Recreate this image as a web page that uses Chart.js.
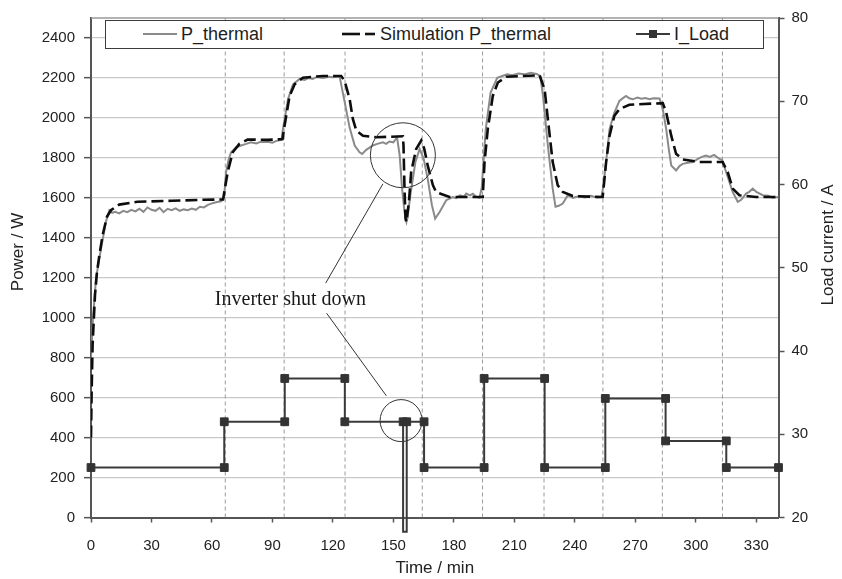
<!DOCTYPE html>
<html>
<head>
<meta charset="utf-8">
<script src="https://cdn.jsdelivr.net/npm/chart.js@4.4.1/dist/chart.umd.min.js"></script>
<style>
  html, body { margin: 0; padding: 0; background: #fff; }
  #contenedor { position: relative; width: 842px; height: 579px; }
  #grafico { position: absolute; left: 0; top: 0; }
  #leyenda {
    position: absolute; left: 105px; top: 20px; width: 657px; height: 27px;
    border: 1.5px solid #3c3c3c; background: #fff;
    font-family: "Liberation Sans", Arial, sans-serif; font-size: 18px; color: #1e1e1e;
  }
  .texto { position: absolute; top: 0; line-height: 27px; white-space: nowrap; }
  .muestra { position: absolute; top: 8px; }
</style>
</head>
<body>
<div id="contenedor">
  <canvas id="grafico" width="842" height="579"></canvas>
  <div id="leyenda">
    <svg class="muestra" style="left:37px" width="34" height="10"><line x1="0" y1="5" x2="34" y2="5" stroke="#8a8a8a" stroke-width="2"/></svg>
    <span class="texto" style="left:75px">P_thermal</span>
    <svg class="muestra" style="left:236px" width="34" height="10"><line x1="0" y1="5" x2="18" y2="5" stroke="#111" stroke-width="2.6"/><line x1="23" y1="5" x2="33" y2="5" stroke="#111" stroke-width="2.6"/></svg>
    <span class="texto" style="left:274px">Simulation P_thermal</span>
    <svg class="muestra" style="left:530px" width="34" height="10"><line x1="0" y1="5" x2="34" y2="5" stroke="#3a3a3a" stroke-width="2"/><rect x="13" y="1" width="8" height="8" fill="#333"/></svg>
    <span class="texto" style="left:568px">I_Load</span>
  </div>
</div>
<script>
// Potencia térmica medida (W) contra tiempo (min)
const tMedido = [
  0, 1, 2.5, 5, 7.4, 9.1, 10.5, 12, 14, 16,
  18, 20, 22, 24, 26, 28, 30, 32, 34, 36,
  38, 40, 42, 44, 46, 48, 50, 52, 54, 56,
  58, 60, 62, 64.5, 66, 67, 68.2, 69.5, 72, 74.4,
  77, 79.3, 82, 84, 87.6, 90, 92, 94.5, 95.2, 96.5,
  97.7, 100.2, 103.5, 106, 108, 110, 112, 115, 118, 120,
  123.3, 125.8, 128.3, 130.8, 133.2, 134.5, 136.5, 139.8, 142, 144.8,
  146.4, 148, 150, 151.8, 153.1, 154.3, 155.5, 156.5, 157, 158.4,
  160.9, 163, 165, 167, 169.1, 170.7, 173, 176.2, 179.5, 181,
  183, 185, 186.1, 188, 189.4, 191, 192.7, 193.8, 195, 195.8,
  198.2, 201.5, 204, 206.4, 209, 212, 215, 218, 221, 222.8,
  224.2, 226.6, 229, 230.4, 232, 234, 236.5, 239, 242, 245,
  248, 251, 253.2, 254.2, 255.5, 257.2, 259.6, 262.1, 264, 265.4,
  267, 268.7, 271, 273, 275, 277, 279, 282, 283.6, 285.3,
  286.5, 287.8, 290.2, 292, 293.5, 296, 298.5, 301, 303, 305,
  307, 309, 311.7, 313, 315, 318.3, 320.8, 322.5, 324.9, 326.5,
  328.2, 330, 333.2, 336, 338, 341
];
const pMedido = [
  800, 1000, 1198, 1347, 1480, 1538, 1525, 1530, 1522, 1535,
  1528, 1540, 1532, 1545, 1530, 1552, 1540, 1535, 1550, 1528,
  1545, 1538, 1547, 1535, 1542, 1538, 1546, 1540, 1555, 1552,
  1565, 1572, 1578, 1583, 1600, 1729, 1790, 1828, 1853, 1862,
  1870, 1878, 1872, 1880, 1881, 1876, 1885, 1890, 1944, 2020,
  2093, 2168, 2195, 2190, 2200, 2195, 2205, 2200, 2206, 2203,
  2208, 2080, 1950, 1862, 1828, 1820, 1840, 1862, 1870, 1878,
  1870, 1882, 1878, 1903, 1812, 1646, 1530, 1480, 1500, 1613,
  1779, 1845, 1795, 1696, 1563, 1496, 1530, 1588, 1604, 1598,
  1612, 1606, 1621, 1612, 1620, 1605, 1600, 1650, 1830, 1944,
  2127, 2201, 2210, 2218, 2214, 2222, 2218, 2226, 2220, 2210,
  2110, 1862, 1646, 1555, 1560, 1571, 1613, 1600, 1608, 1602,
  1610, 1600, 1604, 1663, 1779, 1944, 2027, 2085, 2100, 2110,
  2098, 2093, 2102, 2096, 2100, 2094, 2098, 2097, 2044, 1944,
  1850, 1762, 1737, 1760, 1770, 1775, 1779, 1795, 1805, 1812,
  1805, 1815, 1795, 1790, 1729, 1629, 1580, 1590, 1621, 1630,
  1646, 1630, 1613, 1610, 1600, 1604
];

// Potencia térmica simulada (W)
const tSimulado = [
  0, 0.3, 0.8, 2, 3, 4.2, 5.8, 7.9, 9.9, 14,
  23, 40, 55, 65.5, 67.8, 70.3, 73.6, 77.7, 87.6, 95,
  96, 98.5, 101, 105.1, 115, 124.1, 125.8, 128.3, 129.9, 131.6,
  134.9, 141.5, 154.7, 155, 155.5, 156, 156.4, 157.7, 158.8, 161.3,
  163.8, 165.3, 167, 169.6, 171.2, 177.8, 194.3, 195.2, 196.8, 199.3,
  201.8, 206, 222.5, 225, 226.6, 229, 231.5, 234, 239, 253.8,
  255.5, 257.2, 259.6, 262.1, 267, 283.6, 285.3, 287.8, 290.2, 293.5,
  301.8, 313.3, 315.8, 318.3, 321.6, 329.9, 341
];
const pSimulado = [
  400, 620, 868, 1117, 1230, 1316, 1415, 1505, 1538, 1566,
  1580, 1585, 1590, 1592, 1729, 1828, 1870, 1892, 1890, 1894,
  1961, 2110, 2168, 2201, 2210, 2210, 2185, 2093, 1994, 1936,
  1911, 1903, 1908, 1862, 1646, 1496, 1480, 1580, 1729, 1845,
  1887, 1845, 1762, 1663, 1629, 1604, 1604, 1779, 1944, 2110,
  2177, 2206, 2213, 2143, 1994, 1779, 1663, 1629, 1609, 1604,
  1779, 1911, 2011, 2044, 2066, 2074, 2027, 1911, 1820, 1792,
  1779, 1779, 1729, 1646, 1613, 1604, 1604
];

// Corriente de carga (A), escalones
const tCarga = [0, 66.1, 66.1, 96.1, 96.1, 125.9, 125.9, 154.8, 154.8, 156.6, 156.6, 165.2,
  165.2, 195, 195, 225, 225, 255.1, 255.1, 285, 285, 315.1, 315.1, 341];
const iCarga = [26, 26, 31.5, 31.5, 36.7, 36.7, 31.5, 31.5, 18.3, 18.3, 31.5, 31.5,
  26, 26, 36.7, 36.7, 26, 26, 34.3, 34.3, 29.2, 29.2, 26, 26];

// Momentos de cambio de carga (líneas verticales punteadas)
const tCambios = [66.6, 95.8, 126, 164.3, 194.2, 224.7, 253.9, 283.4, 313.2];

const ticksTiempo = [0, 30, 60, 90, 120, 150, 180, 210, 240, 270, 300, 330];

const fuente = '"Liberation Sans", Arial, sans-serif';

function pares(xs, ys) {
  return xs.map((v, i) => ({ x: v, y: ys[i] }));
}

// líneas verticales separadas con huecos (null)
const puntosCambios = [];
tCambios.forEach(t => {
  puntosCambios.push({ x: t, y: 0 }, { x: t, y: 2500 }, { x: t, y: null });
});

// Círculos, flechas y textos encima de las curvas
const anotaciones = {
  id: 'anotaciones',
  afterDatasetsDraw(chart) {
    const { ctx, chartArea, scales } = chart;
    const x = scales.x, y = scales.y;
    ctx.save();
    // borde superior del área
    ctx.strokeStyle = '#9a9a9a';
    ctx.lineWidth = 1.5;
    ctx.beginPath();
    ctx.moveTo(chartArea.left, chartArea.top);
    ctx.lineTo(chartArea.right, chartArea.top);
    ctx.stroke();

    ctx.strokeStyle = '#333';
    ctx.lineWidth = 1;
    ctx.beginPath();
    ctx.arc(x.getPixelForValue(154.7), y.getPixelForValue(1813), 32.5, 0, Math.PI * 2);
    ctx.stroke();
    ctx.beginPath();
    ctx.arc(x.getPixelForValue(153.8), y.getPixelForValue(485), 21, 0, Math.PI * 2);
    ctx.stroke();

    ctx.beginPath();
    ctx.moveTo(x.getPixelForValue(116.4), y.getPixelForValue(1173));
    ctx.lineTo(x.getPixelForValue(144.8), y.getPixelForValue(1670));
    ctx.moveTo(x.getPixelForValue(116.9), y.getPixelForValue(1022));
    ctx.lineTo(x.getPixelForValue(146.5), y.getPixelForValue(609));
    ctx.stroke();

    ctx.fillStyle = '#1a1a1a';
    ctx.font = '20px "Liberation Serif", "Times New Roman", serif';
    ctx.textAlign = 'center';
    ctx.textBaseline = 'middle';
    ctx.fillText('Inverter shut down', x.getPixelForValue(98.9), y.getPixelForValue(1092));

    // títulos de los ejes verticales
    ctx.font = '17px ' + fuente;
    ctx.fillStyle = '#222';
    ctx.translate(18, 252);
    ctx.rotate(-Math.PI / 2);
    ctx.fillText('Power / W', 0, 0);
    ctx.setTransform(1, 0, 0, 1, 0, 0);
    ctx.translate(828, 245);
    ctx.rotate(-Math.PI / 2);
    ctx.fillText('Load current / A', 0, 0);
    ctx.restore();
  }
};

const ctx = document.getElementById('grafico');
new Chart(ctx, {
  type: 'line',
  data: {
    datasets: [
      {
        label: 'Simulation P_thermal',
        data: pares(tSimulado, pSimulado),
        yAxisID: 'y',
        borderColor: '#0d0d0d',
        borderWidth: 2.6,
        borderDash: [12, 5],
        pointRadius: 0,
        tension: 0,
        order: 1
      },
      {
        label: 'P_thermal',
        data: pares(tMedido, pMedido),
        yAxisID: 'y',
        borderColor: '#8a8a8a',
        borderWidth: 2,
        pointRadius: 0,
        tension: 0,
        order: 2
      },
      {
        label: 'I_Load',
        data: pares(tCarga, iCarga),
        yAxisID: 'y2',
        borderColor: '#3a3a3a',
        borderWidth: 2,
        pointStyle: 'rect',
        pointRadius: ctx2 => (ctx2.raw && ctx2.raw.y < 20 ? 0 : 5.5),
        pointBackgroundColor: '#333',
        pointBorderColor: '#333',
        pointBorderWidth: 1,
        tension: 0,
        clip: false,
        order: 3
      },
      {
        label: 'cambios',
        data: puntosCambios,
        yAxisID: 'y',
        borderColor: '#9a9a9a',
        borderWidth: 1,
        borderDash: [4, 3],
        pointRadius: 0,
        spanGaps: false,
        order: 4
      }
    ]
  },
  options: {
    responsive: false,
    animation: false,
    devicePixelRatio: 1,
    layout: { padding: { top: 14, left: 0, right: 0, bottom: 0 } },
    plugins: {
      legend: { display: false },
      tooltip: { enabled: false }
    },
    scales: {
      x: {
        type: 'linear',
        min: 0,
        max: 341,
        afterBuildTicks: s => { s.ticks = ticksTiempo.map(v => ({ value: v })); },
        afterFit: s => { s.height = 61.5; },
        ticks: { font: { family: fuente, size: 15 }, color: '#222', padding: 14, maxRotation: 0, callback: v => String(v) },
        grid: { drawOnChartArea: false, tickLength: 5, tickColor: '#555', tickWidth: 1.5 },
        border: { color: '#555', width: 2 },
        title: {
          display: true, text: 'Time / min', color: '#222',
          font: { family: fuente, size: 17 }, padding: { top: 0, bottom: 0 }
        }
      },
      y: {
        position: 'left',
        min: 0,
        max: 2500,
        afterBuildTicks: s => { s.ticks = s.ticks.filter(t => t.value % 200 === 0); },
        afterFit: s => { s.width = 91; },
        ticks: { stepSize: 200, font: { family: fuente, size: 15 }, color: '#222', padding: 9, callback: v => String(v) },
        grid: { color: '#c9c9c9', lineWidth: 1.3, tickLength: 7, tickColor: '#555', tickWidth: 1.5 },
        border: { color: '#555', width: 2 }
      },
      y2: {
        position: 'right',
        min: 20,
        max: 80,
        afterFit: s => { s.width = 63.5; },
        ticks: { stepSize: 10, font: { family: fuente, size: 15 }, color: '#222', padding: 7, callback: v => String(v) },
        grid: { drawOnChartArea: false, tickLength: 6, tickColor: '#555', tickWidth: 1.5 },
        border: { color: '#555', width: 2 }
      }
    }
  },
  plugins: [anotaciones]
});
</script>
</body>
</html>
